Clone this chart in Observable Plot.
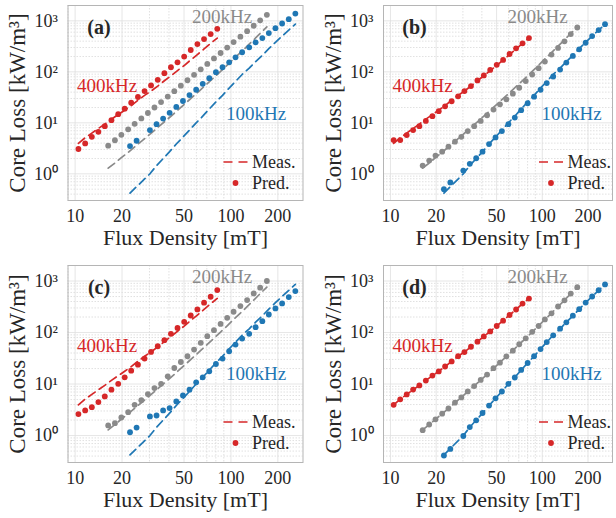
<!DOCTYPE html>
<html>
<head>
<meta charset="utf-8">
<script src="https://cdn.jsdelivr.net/npm/d3@7"></script>
<script src="https://cdn.jsdelivr.net/npm/@observablehq/plot@0.6"></script>
<style>
  html, body { margin: 0; padding: 0; background: #fff; }
  #wrap { position: relative; width: 616px; height: 518px; overflow: hidden; }
  .panel { position: absolute; }
</style>
</head>
<body>
<div id="wrap"></div>
<script>
// ---------- data ----------
const flux400 = [10.5, 11.6, 12.8, 14.1, 15.5, 17.1, 18.9, 20.8, 22.9, 25.3, 27.9, 30.7, 33.9, 37.4, 41.2, 45.4, 50.1, 55.2, 60.9, 67.2, 74.1, 81.7];
const flux200 = [16.3, 18.0, 19.8, 21.9, 24.1, 26.6, 29.3, 32.3, 35.6, 39.3, 43.3, 47.7, 52.6, 58.0, 64.0, 70.5, 77.8, 85.8, 94.6, 104, 115, 127, 140, 154, 170];
const flux100 = [22.5, 24.8, 30.2, 33.3, 36.7, 40.4, 44.6, 49.2, 54.2, 59.8, 65.9, 72.6, 80.1, 88.3, 97.4, 107, 118, 131, 144, 159, 175, 193, 213, 235, 259];

const meas400 = [3.95, 5.10, 6.29, 7.76, 9.42, 11.8, 14.5, 17.7, 21.8, 27.7, 34.6, 42.0, 52.6, 66.8, 83.6, 106, 133, 171, 218, 281, 362, 459];
const meas200 = [1.29, 1.63, 2.08, 2.64, 3.38, 4.33, 5.55, 7.14, 9.21, 11.9, 15.4, 20.1, 26.2, 34.2, 44.8, 58.8, 77.4, 102, 135, 179, 238, 318, 424, 568, 762];
const meas100 = [0.42, 0.56, 1.00, 1.45, 1.99, 2.72, 3.84, 5.26, 7.20, 10.0, 13.5, 18.7, 25.7, 34.6, 48.1, 64.9, 88.8, 118, 159, 211, 285, 379, 502, 658, 861];

const predA400 = [3.07, 3.95, 5.33, 6.68, 8.61, 11.3, 14.8, 19.0, 24.9, 32.1, 42.0, 54.2, 69.8, 94.2, 123, 154, 199, 268, 351, 439, 550, 698];
const predA200 = [3.56, 4.56, 5.83, 7.46, 9.55, 12.2, 15.6, 20.0, 25.5, 32.7, 41.8, 53.5, 68.4, 87.5, 112, 143, 183, 234, 299, 383, 490, 627, 802, 1024, 1310];
const predA100 = [3.51, 4.45, 7.2, 9.4, 12.1, 15.7, 20.5, 26.8, 35.1, 44.6, 58.3, 75.3, 98.6, 123, 154, 193, 242, 303, 379, 460, 575, 720, 887, 1077, 1390];

const predB400 = [4.59, 4.59, 5.75, 7.20, 8.61, 10.9, 13.5, 16.9, 21.1, 26.5, 33.1, 42.0, 52.6, 67.8, 84.9, 109, 137, 171, 224, 289, 362, 459];
const predB200 = [1.45, 1.82, 2.28, 2.72, 3.41, 4.27, 5.33, 6.88, 8.61, 10.9, 14.1, 18.2, 23.1, 28.9, 37.3, 48.8, 65.8, 88.8, 118, 159, 218, 294, 396, 550, 741];
const predB100 = [0.50, 0.68, 1.16, 1.57, 2.02, 2.72, 3.84, 5.18, 6.88, 9.42, 12.7, 17.7, 24.2, 32.6, 44.6, 60.1, 81.1, 111, 152, 205, 277, 372, 502, 658, 861];

const predC400 = [2.61, 3.07, 3.56, 4.46, 5.75, 7.76, 10.1, 13.5, 18.2, 23.8, 31.2, 42.0, 54.2, 70.9, 94.2, 123, 161, 214, 281, 379, 495, 668];
const predC200 = [1.57, 1.74, 2.24, 2.85, 3.95, 4.87, 6.38, 8.36, 10.1, 14.1, 20.5, 26.8, 34.6, 46.7, 63.0, 84.9, 111, 147, 193, 253, 326, 426, 575, 741, 1000];
const predC100 = [1.16, 1.43, 2.35, 2.45, 3.07, 3.41, 4.59, 6.01, 7.76, 10.8, 13.5, 17.7, 24.5, 31.2, 43.3, 58.3, 76.3, 94.2, 127, 166, 224, 294, 367, 488, 638];

const predD400 = [3.95, 5.05, 6.3, 7.8, 9.4, 11.7, 14.6, 17.6, 21.9, 27.5, 34.8, 41.8, 52.9, 66.5, 84.0, 105, 134, 170, 219, 280, 364, 457];
const predD200 = [1.27, 1.64, 2.07, 2.66, 3.35, 4.35, 5.5, 7.2, 9.15, 12.0, 15.3, 20.3, 26.0, 34.5, 44.5, 59.2, 77.0, 103, 134, 180, 236, 320, 421, 571, 758];
const predD100 = [0.41, 0.55, 0.98, 1.46, 1.98, 2.74, 3.82, 5.29, 7.17, 10.1, 13.4, 18.8, 25.6, 34.8, 47.8, 65.3, 88.4, 119, 158, 212, 284, 381, 500, 661, 858];

const panelLetters = ["(a)", "(b)", "(c)", "(d)"];
const freqLabels = ["400kHz", "200kHz", "100kHz"];
const legendLabels = ["Meas.", "Pred."];
const xTicks = [10, 20, 50, 100, 200];
const xTickLabels = ["10", "20", "50", "100", "200"];
const xMinor = [9, 30, 40, 60, 70, 80, 90];
const yTicks = [1, 10, 100, 1000];
const yTickLabels = ["10\u2070", "10\u00B9", "10\u00B2", "10\u00B3"];
const yMinor = [0.3, 0.4, 0.5, 0.6, 0.7, 0.8, 0.9, 2, 3, 4, 5, 6, 7, 8, 9, 20, 30, 40, 50, 60, 70, 80, 90, 200, 300, 400, 500, 600, 700, 800, 900, 2000];
const xLabel = "Flux Density [mT]";
const yLabel = "Core Loss [kW/m\u00B3]";

// ---------- styling ----------
const colors = {400: "#d62728", 200: "#8a8a8a", 100: "#1f77b4"};
const FONT = "'Liberation Serif', 'Times New Roman', serif";
const INK = "#262626";

function rows(flux, vals) { return flux.map((b, i) => ({b, p: vals[i]})); }

const preds = [
  [predA400, predA200, predA100],
  [predB400, predB200, predB100],
  [predC400, predC200, predC100],
  [predD400, predD200, predD100]
];

const layout = [
  {left: 0,   top: 0,   w: 310, h: 259, ml: 67.5, mr: 7.5, mt: 5, mb: 59},
  {left: 308, top: 0,   w: 308, h: 259, ml: 75,   mr: 4,   mt: 5, mb: 59},
  {left: 0,   top: 259, w: 310, h: 259, ml: 67.5, mr: 7.5, mt: 6, mb: 56},
  {left: 308, top: 259, w: 308, h: 259, ml: 75,   mr: 4,   mt: 6, mb: 56}
];

const wrap = document.getElementById("wrap");
const C = {textAnchor: "middle", lineAnchor: "middle"};

layout.forEach((L, idx) => {
  const [p400, p200, p100] = preds[idx];
  const series = [
    {flux: flux400, meas: meas400, pred: p400, c: colors[400]},
    {flux: flux200, meas: meas200, pred: p200, c: colors[200]},
    {flux: flux100, meas: meas100, pred: p100, c: colors[100]}
  ];
  const marks = [
    Plot.gridX({ticks: xMinor, stroke: "#d4d4d4", strokeOpacity: 1, strokeWidth: 0.7, strokeDasharray: "1.5,1.5"}),
    Plot.gridY({ticks: yMinor, stroke: "#d4d4d4", strokeOpacity: 1, strokeWidth: 0.7, strokeDasharray: "1.5,1.5"}),
    Plot.gridX({ticks: xTicks, stroke: "#e0e0e0", strokeOpacity: 1, strokeWidth: 0.8}),
    Plot.gridY({ticks: yTicks, stroke: "#e0e0e0", strokeOpacity: 1, strokeWidth: 0.8}),
    Plot.frame({stroke: "#b5b5b5", strokeWidth: 1}),
    Plot.axisX({ticks: xTicks, tickSize: 0, tickPadding: 9, tickFormat: (d) => xTickLabels[xTicks.indexOf(d)], fontSize: 18, fill: INK, label: null}),
    Plot.axisY({ticks: yTicks, tickSize: 0, tickPadding: 10, tickFormat: (d) => yTickLabels[yTicks.indexOf(d)], fontSize: 18, fill: INK, label: null}),
    Plot.text([xLabel], {text: d => d, frameAnchor: "bottom", dy: 37, fontSize: 22, fill: INK, ...C}),
    Plot.text([yLabel], {text: d => d, frameAnchor: "left", dx: -50, rotate: -90, fontSize: 23, fill: INK, ...C})
  ];
  series.forEach(s => {
    marks.push(Plot.line(rows(s.flux, s.meas), {x: "b", y: "p", stroke: s.c, strokeWidth: 1.7, strokeDasharray: "8,5"}));
  });
  series.forEach(s => {
    marks.push(Plot.dot(rows(s.flux, s.pred), {x: "b", y: "p", r: 2.9, fill: s.c, stroke: "none"}));
  });
  // annotations
  marks.push(Plot.text([panelLetters[idx]], {text: d => d, frameAnchor: "top-left", dx: 31, dy: 22, fontSize: 20, fontWeight: "bold", fill: INK, ...C}));
  marks.push(Plot.text([freqLabels[0]], {text: d => d, frameAnchor: "top-left", dx: 39, dy: 80, fontSize: 19, fill: colors[400], ...C}));
  marks.push(Plot.text([freqLabels[1]], {text: d => d, frameAnchor: "top-left", dx: 154, dy: 11, fontSize: 19, fill: colors[200], ...C}));
  marks.push(Plot.text([freqLabels[2]], {text: d => d, frameAnchor: "top-left", dx: 188, dy: 108, fontSize: 19, fill: colors[100], ...C}));
  marks.push(Plot.text([legendLabels[0]], {text: d => d, frameAnchor: "top-left", dx: 184, dy: 157, fontSize: 18, fill: INK, textAnchor: "start", lineAnchor: "middle"}));
  marks.push(Plot.text([legendLabels[1]], {text: d => d, frameAnchor: "top-left", dx: 184, dy: 178, fontSize: 18, fill: INK, textAnchor: "start", lineAnchor: "middle"}));

  const svg = Plot.plot({
    width: L.w, height: L.h,
    marginLeft: L.ml, marginRight: L.mr, marginTop: L.mt, marginBottom: L.mb,
    style: {fontFamily: FONT, background: "transparent", overflow: "visible"},
    x: {type: "log", domain: [9, 290]},
    y: {type: "log", domain: [0.3, 2000]},
    marks
  });
  // legend samples
  const g = d3.select(svg).append("g").attr("transform", `translate(${L.ml},${L.mt})`);
  g.append("line").attr("x1", 156).attr("x2", 180).attr("y1", 157).attr("y2", 157)
    .attr("stroke", colors[400]).attr("stroke-width", 1.7).attr("stroke-dasharray", "9,6");
  g.append("circle").attr("cx", 168).attr("cy", 178).attr("r", 2.9).attr("fill", colors[400]);

  const div = document.createElement("div");
  div.className = "panel";
  div.style.left = L.left + "px";
  div.style.top = L.top + "px";
  div.appendChild(svg);
  wrap.appendChild(div);
});
</script>
</body>
</html>
